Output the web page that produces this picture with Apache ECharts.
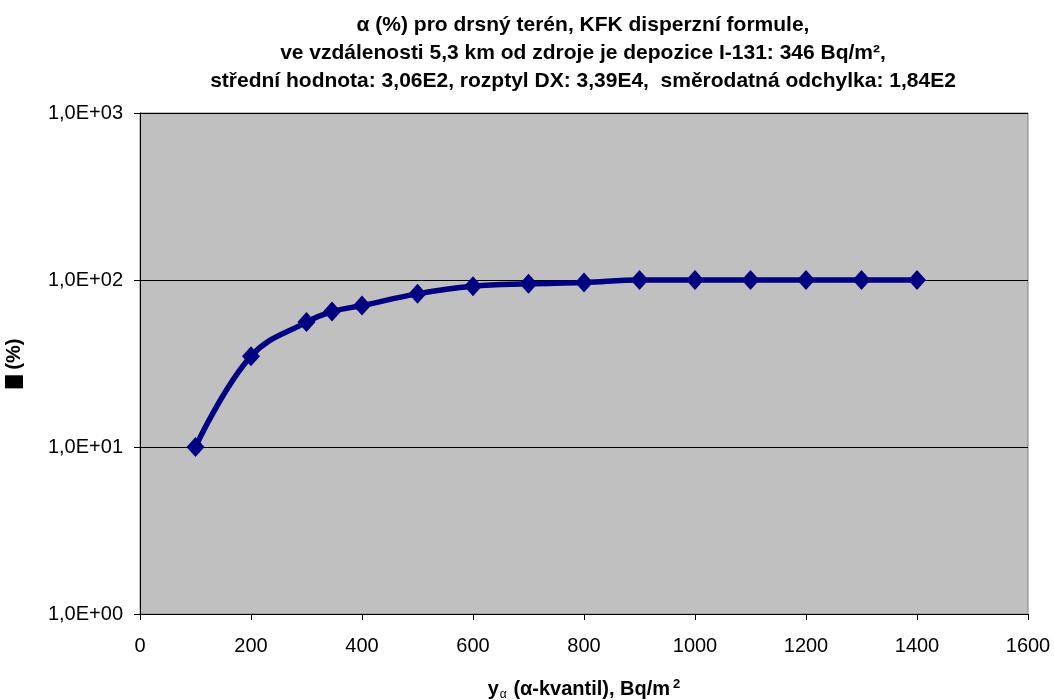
<!DOCTYPE html>
<html>
<head>
<meta charset="utf-8">
<title>alfa-kvantil</title>
<script src="https://cdn.jsdelivr.net/npm/echarts@6/dist/echarts.min.js"></script>
<style>
  html, body { margin: 0; padding: 0; background: #fff; }
  #chart { width: 1054px; height: 700px; }
</style>
</head>
<body>
<div id="chart"></div>
<script>
  // y_alfa kvantil (Bq/m2) a odpovidajici alfa (%)
  var xValues = [100, 200, 300, 346, 400, 500, 600, 700, 800, 900, 1000, 1100, 1200, 1300, 1400];
  var alphaValues = [10, 35, 56, 64.7, 70.3, 82.6, 91.6, 94.8, 96.5, 100, 100, 100, 100, 100, 100];

  var titleLines = [
    "α (%) pro drsný terén, KFK disperzní formule,",
    "ve vzdálenosti 5,3 km od zdroje je depozice I-131: 346 Bq/m²,",
    "střední hodnota: 3,06E2, rozptyl DX: 3,39E4,  směrodatná odchylka: 1,84E2"
  ];

  var FONT = "Liberation Sans, Arial, sans-serif";

  var points = xValues.map(function (x, i) { return [x, alphaValues[i]]; });

  function expLabel(v) {
    var e = Math.round(Math.log(v) / Math.LN10);
    return "1,0E+" + (e < 10 ? "0" : "") + e;
  }

  var chart = echarts.init(document.getElementById("chart"), null, { renderer: "canvas" });

  chart.setOption({
    backgroundColor: "#ffffff",
    animation: false,
    title: {
      text: titleLines.join("\n"),
      left: 578,
      top: 6,
      textAlign: "center",
      textStyle: {
        fontFamily: FONT,
        fontSize: 21,
        fontWeight: "bold",
        color: "#000",
        lineHeight: 28
      }
    },
    grid: {
      left: 140,
      right: 26,
      top: 113,
      bottom: 86,
      outerBoundsMode: "none",
      containLabel: false,
      show: true,
      backgroundColor: "#c0c0c0",
      borderColor: "#808080",
      borderWidth: 1
    },
    xAxis: {
      type: "value",
      min: 0,
      max: 1600,
      interval: 200,
      name: "{y|y}{sub|α}  {n|(α-kvantil), Bq/m}{sup|2}",
      nameLocation: "middle",
      nameGap: 64,
      nameTextStyle: {
        rich: {
          y: { fontFamily: FONT, fontSize: 20, fontWeight: "bold", color: "#000" },
          sub: { fontFamily: FONT, fontSize: 12, color: "#000", verticalAlign: "bottom", padding: [10, 0, 0, 1] },
          n: { fontFamily: FONT, fontSize: 20, fontWeight: "bold", color: "#000" },
          sup: { fontFamily: FONT, fontSize: 13, fontWeight: "bold", color: "#000", verticalAlign: "top", padding: [0, 0, 10, 3] }
        }
      },
      axisLine: { lineStyle: { color: "#000", width: 1 } },
      axisTick: { show: true, inside: false, length: 6, lineStyle: { color: "#000" } },
      axisLabel: {
        fontFamily: FONT,
        fontSize: 20,
        color: "#000",
        margin: 22,
        formatter: function (v) { return String(v); }
      },
      splitLine: { show: false }
    },
    yAxis: {
      type: "log",
      logBase: 10,
      min: 1,
      max: 1000,
      name: "{b|α} (%)",
      nameLocation: "middle",
      nameGap: 116,
      nameRotate: 90,
      nameTextStyle: {
        fontFamily: FONT,
        fontSize: 20,
        fontWeight: "bold",
        color: "#000",
        rich: {
          b: { fontFamily: FONT, fontSize: 18, fontWeight: "bold", color: "#000", backgroundColor: "#000", padding: [0, 1, 0, 1] }
        }
      },
      axisLine: { show: true, lineStyle: { color: "#000", width: 1 } },
      axisTick: { show: true, inside: false, length: 6, lineStyle: { color: "#000" } },
      axisLabel: {
        fontFamily: FONT,
        fontSize: 20,
        color: "#000",
        margin: 17,
        formatter: expLabel
      },
      splitLine: { show: true, lineStyle: { color: "#000", width: 1 } }
    },
    series: [
      {
        type: "line",
        data: points,
        smooth: 0.4,
        symbol: "diamond",
        symbolSize: [18, 20],
        lineStyle: { color: "#000080", width: 5.5 },
        itemStyle: { color: "#000080" }
      }
    ]
  });
</script>
</body>
</html>
